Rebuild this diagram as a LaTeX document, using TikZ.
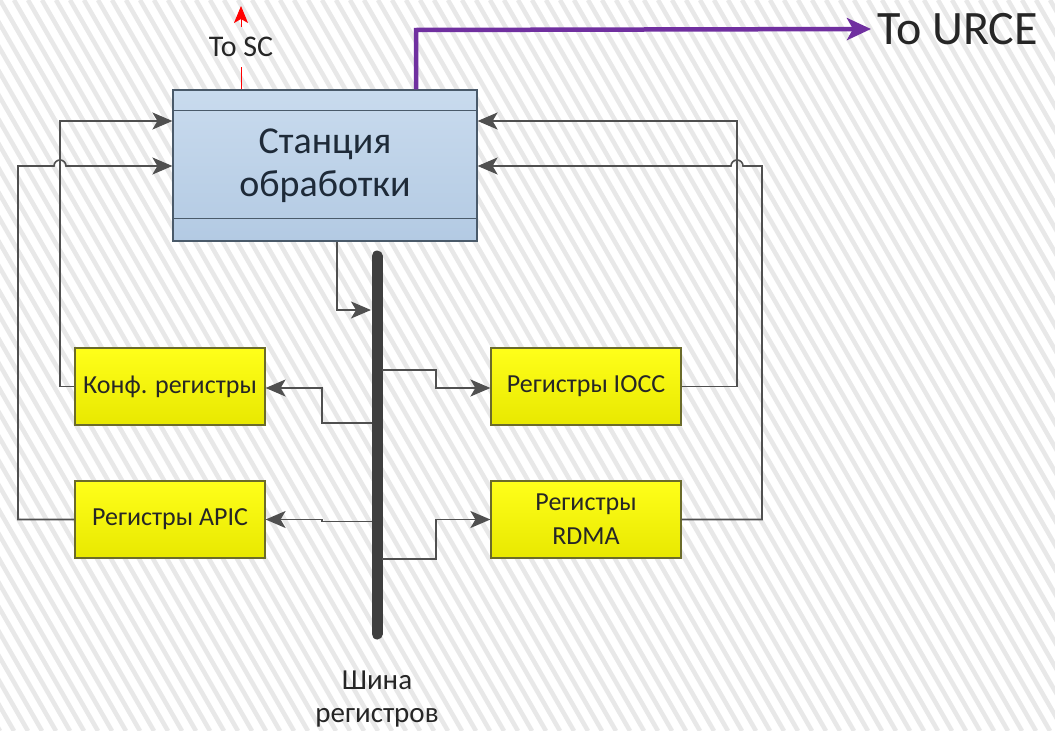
\documentclass[tikz,border=0pt]{standalone}
\usepackage{fontspec}
\setmainfont{Carlito}
\usetikzlibrary{arrows.meta}
\definecolor{hatch}{HTML}{E8E8E8}
\definecolor{lineC}{HTML}{505050}
\definecolor{busC}{HTML}{3F3F3F}
\definecolor{boxBlueTop}{HTML}{C9DBEE}
\definecolor{boxBlueBot}{HTML}{B3CAE3}
\definecolor{boxBorder}{HTML}{4A5A6A}
\definecolor{yelTop}{HTML}{FFFF1A}
\definecolor{yelBot}{HTML}{E8E800}
\definecolor{yelBorder}{HTML}{6B6B2A}
\definecolor{purpleC}{HTML}{7030A0}
\definecolor{textC}{HTML}{262626}
\definecolor{mainText}{HTML}{1E2A38}
\tikzset{
  hatchline/.style={hatch, line width=4.5pt},
  mainbox/.style={draw=boxBorder, line width=1.2pt, top color=boxBlueTop, bottom color=boxBlueBot,
    minimum width=304pt, minimum height=151pt, inner sep=0pt, align=center,
    font=\fontsize{38}{43}\selectfont, text=mainText},
  regbox/.style={draw=yelBorder, line width=1.2pt, top color=yelTop, bottom color=yelBot,
    minimum width=190pt, minimum height=77pt, inner sep=0pt, align=center,
    font=\fontsize{26}{34}\selectfont, text=textC},
  conn/.style={lineC, line width=1.6pt},
  arr/.style={conn, -{Stealth[length=20pt,width=17pt,inset=5pt]}},
  bus/.style={busC, line width=11pt, line cap=round},
  lbl/.style={text=textC, inner sep=0pt}
}
\begin{document}
\begin{tikzpicture}[x=1pt,y=-1pt]
\useasboundingbox (0,0) rectangle (1055,731);
\begin{scope}
\clip (0,0) rectangle (1055,731);
\fill[white] (0,0) rectangle (1055,731);
\foreach \i in {-35,...,80} \draw[hatchline] (\i*14,0) -- ++(420,731);
\end{scope}

% main station
\node[mainbox] (main) at (325,165.5) {Станция\\обработки};
\draw[boxBorder, line width=1.2pt] ([yshift=-21pt]main.north west) -- ([yshift=-21pt]main.north east);
\draw[boxBorder, line width=1.2pt] ([yshift=23pt]main.south west) -- ([yshift=23pt]main.south east);

% register boxes
\node[regbox] (konf) at (170,386.5) {Конф. регистры};
\node[regbox] (iocc) at (586,386.5) {Регистры IOCC};
\node[regbox] (apic) at (170,519.5) {Регистры APIC};
\node[regbox] (rdma) at (586,519.5) {Регистры\\RDMA};

% bus
\coordinate (busT) at (377,256);
\coordinate (busB) at (377,634);
\draw[bus] (busT) -- (busB);
\node[lbl, align=center, font=\fontsize{29}{33}\selectfont] (buslbl) at (377,699) {Шина\\регистров};

% To SC
\node[lbl, font=\fontsize{30}{34}\selectfont] (tosc) at (241,47) {To SC};
\coordinate (scTop) at (241,6);
\draw[red, line width=1pt] (main.north -| 241,0) -- (241,67);
\draw[red, line width=1pt, -{Stealth[length=17pt,width=14pt,inset=4pt]}] (241,27) -- (scTop);

% To URCE
\node[lbl, anchor=west, font=\fontsize{48}{54}\selectfont] (urce) at (877,29) {To URCE};
\draw[purpleC, line width=4.5pt, -{Stealth[length=24pt,width=22pt,inset=6pt]}]
  (main.north -| 416,0) -- (416,30) -- ([xshift=-6pt]urce.west);

% left feedback lines
\draw[arr] (konf.west) -- (60,386.5) -- (60,121) -- (main.west |- 0,121);
\draw[arr] (apic.west) -- (18,519.5) -- (18,166) -- (54,166) arc (180:360:6) -- (main.west |- 0,166);
% right feedback lines
\draw[arr] (iocc.east) -- (737,386.5) -- (737,121) -- (main.east |- 0,121);
\draw[arr] (rdma.east) -- (762,519.5) -- (762,166) -- (743,166) arc (360:180:6) -- (main.east |- 0,166);

% bus connections
\draw[arr] (main.south -| 337,0) -- (337,310) -- (371,310);
\draw[arr] (372,423) -- (322,423) -- (322,388) -- (konf.east |- 0,388);
\draw[arr] (382,370) -- (436,370) -- (436,388) -- (iocc.west |- 0,388);
\draw[arr] (372,521.5) -- (322,521.5) -- (322,519.5) -- (apic.east);
\draw[arr] (382,559) -- (436,559) -- (436,519.5) -- (rdma.west);
\end{tikzpicture}
\end{document}
